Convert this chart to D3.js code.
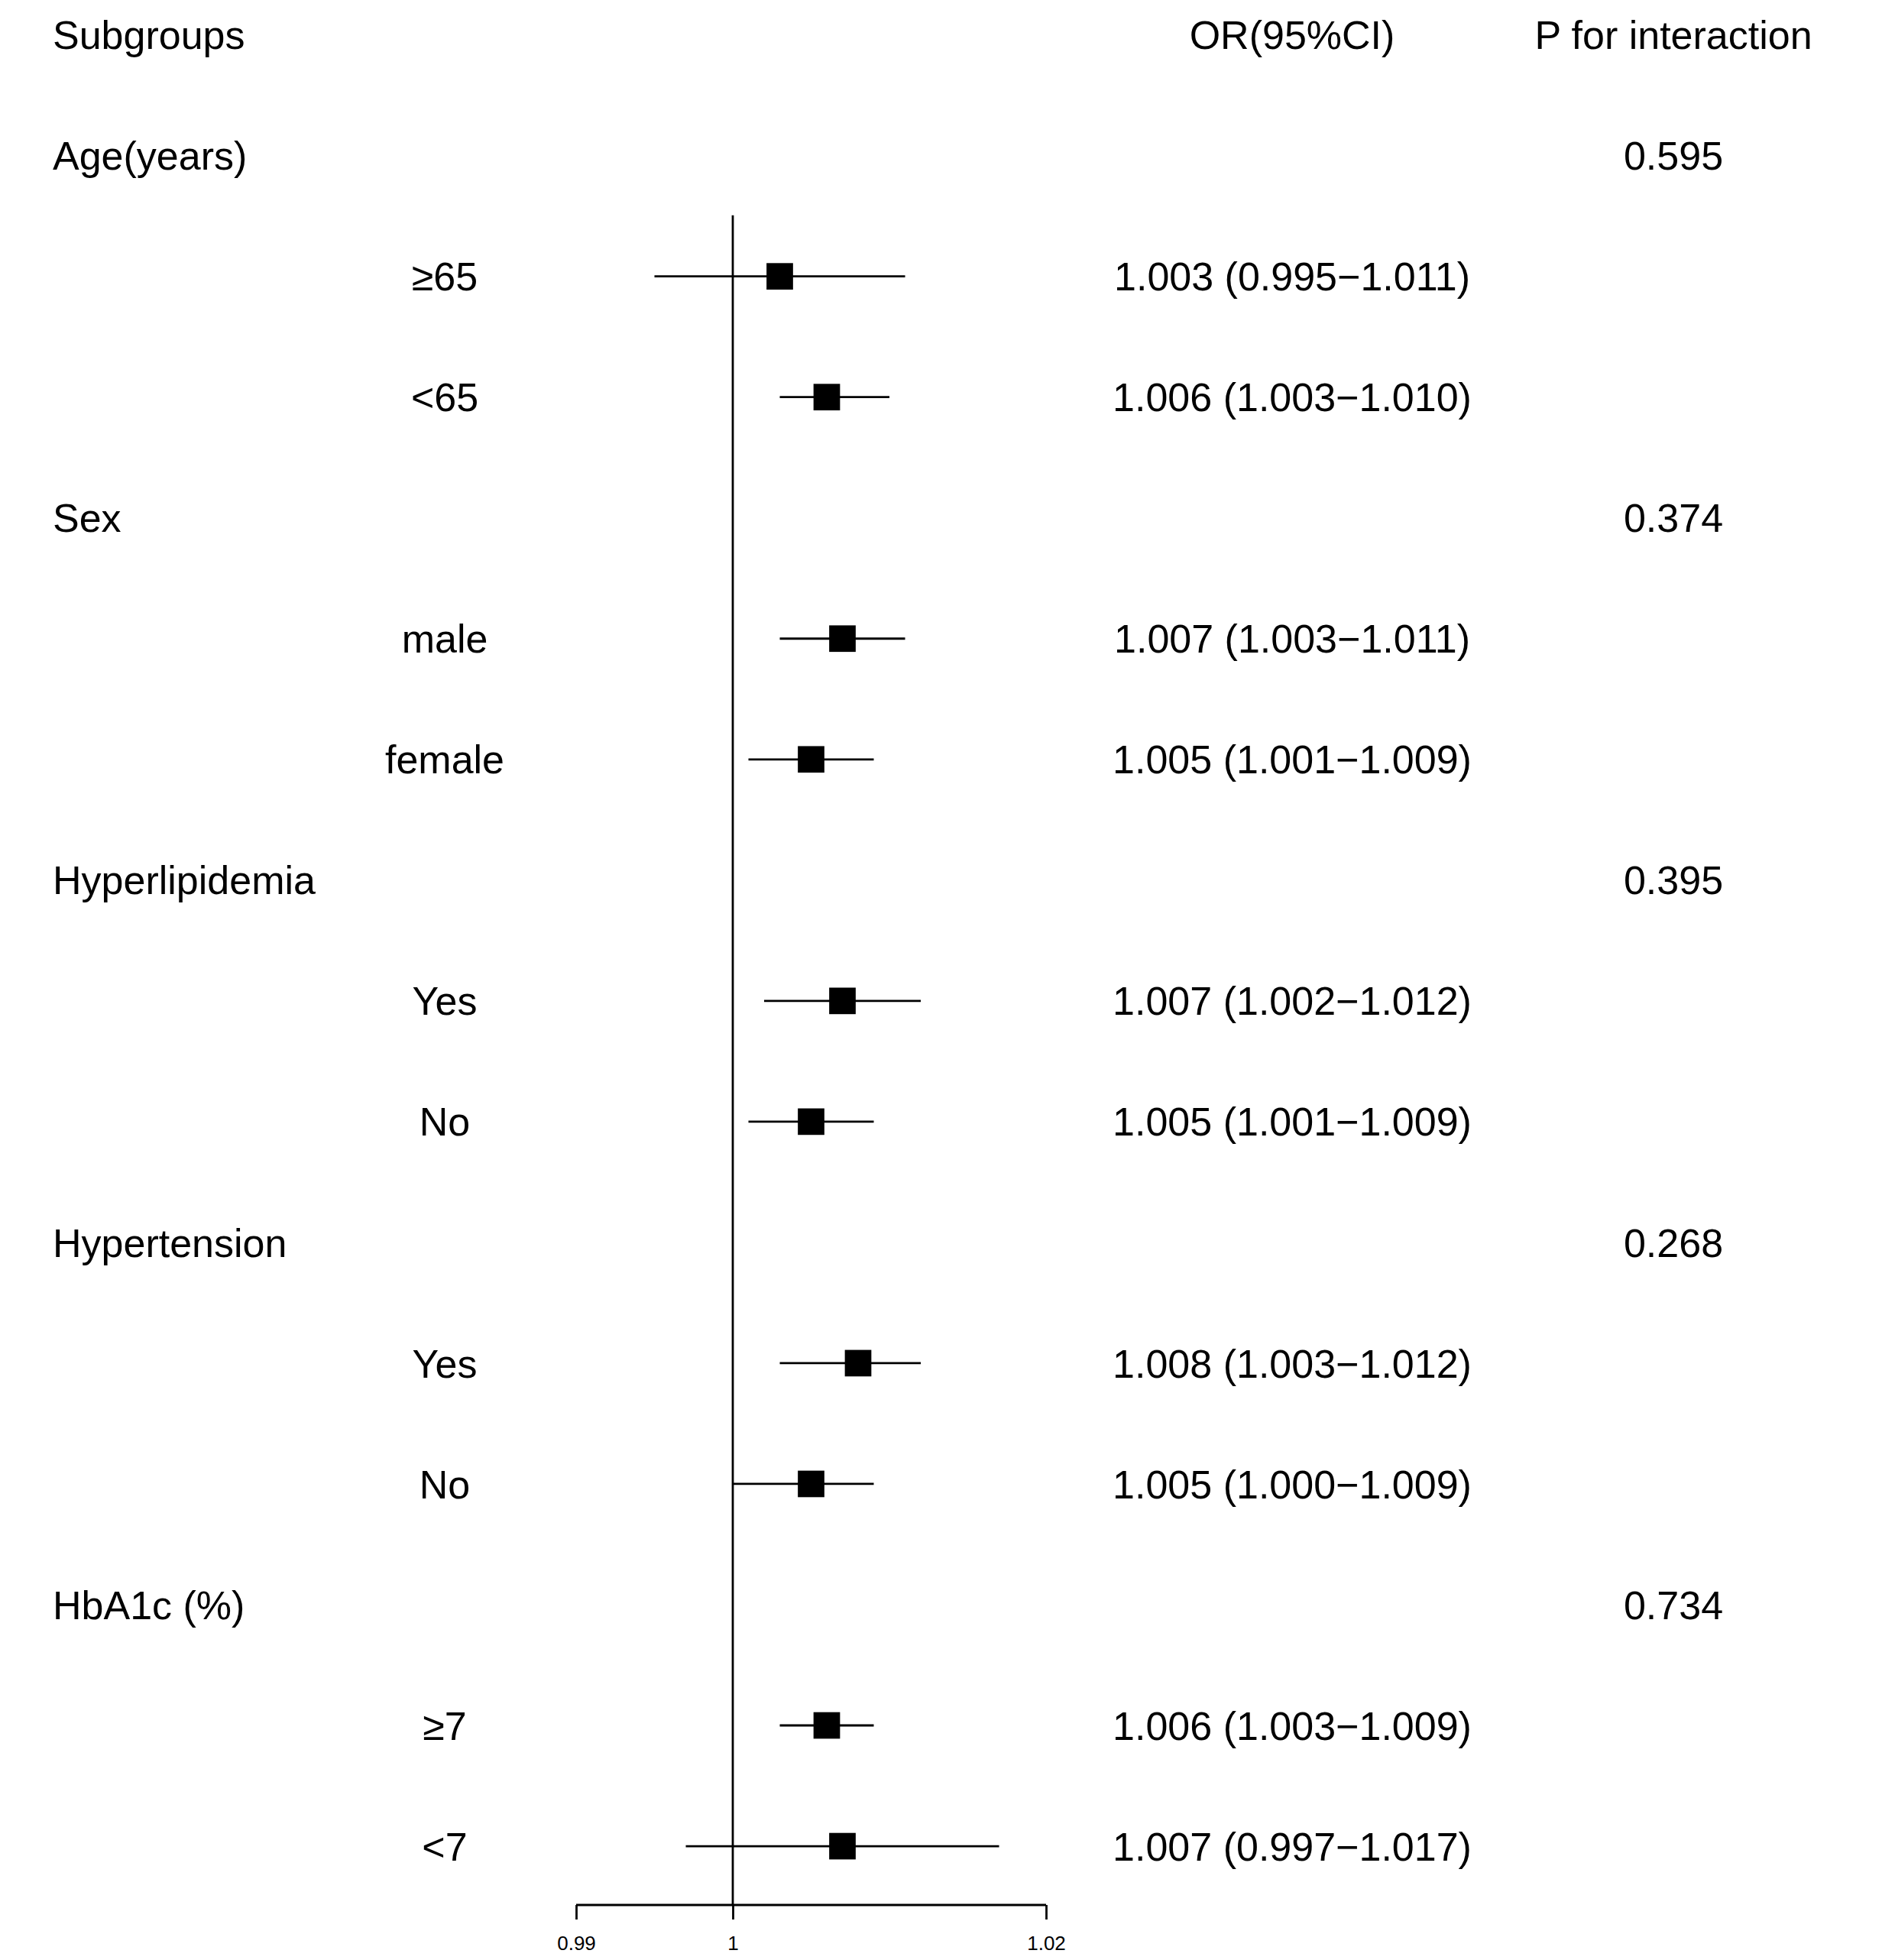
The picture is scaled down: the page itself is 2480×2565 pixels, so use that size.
<!DOCTYPE html>
<html>
<head>
<meta charset="utf-8">
<script src="https://cdn.jsdelivr.net/npm/d3@7/dist/d3.min.js"></script>
<style>
  html, body { margin: 0; padding: 0; background: #fff; }
  svg { display: block; }
  text { font-family: "Liberation Sans", Arial, sans-serif; fill: #000; }
</style>
</head>
<body>
<script>
// ---- data ----
const headers = ["Subgroups", "OR(95%CI)", "P for interaction"];
const groups = ["Age(years)", "Sex", "Hyperlipidemia", "Hypertension", "HbA1c (%)"];
const pInteraction = ["0.595", "0.374", "0.395", "0.268", "0.734"];
const subgroups = ["\u226565", "<65", "male", "female", "Yes", "No", "Yes", "No", "\u22657", "<7"];
const subgroupGroup = [0, 0, 1, 1, 2, 2, 3, 3, 4, 4];
const orValues = [1.003, 1.006, 1.007, 1.005, 1.007, 1.005, 1.008, 1.005, 1.006, 1.007];
const ciLower = [0.995, 1.003, 1.003, 1.001, 1.002, 1.001, 1.003, 1.000, 1.003, 0.997];
const ciUpper = [1.011, 1.010, 1.011, 1.009, 1.012, 1.009, 1.012, 1.009, 1.009, 1.017];
const tickValues = [0.99, 1, 1.02];
const tickLabels = ["0.99", "1", "1.02"];

// ---- layout ----
const W = 2480, H = 2565;
const svg = d3.select("body").append("svg").attr("width", W).attr("height", H);

const rows = [];
groups.forEach((g, gi) => {
  rows.push({ type: "group", label: g, p: pInteraction[gi] });
  subgroups.forEach((s, si) => {
    if (subgroupGroup[si] === gi) {
      rows.push({ type: "sub", label: s, or: orValues[si], lo: ciLower[si], hi: ciUpper[si] });
    }
  });
});

const y = d3.scaleLinear().domain([0, 1]).range([45.6, 45.6 + 158.03]);
const x = d3.scaleLinear().domain([0.99, 1.02]).range([754, 1369]);

const fs = 52;
const textOff = 18.6;
const colLeft = 69, colSub = 582, colOR = 1691, colP = 2190;
const lw = 2.8;
const sq = 34.7;

const fmt3 = d3.format(".3f");

svg.append("text").attr("x", colLeft).attr("y", y(0) + textOff).attr("font-size", fs).text(headers[0]);
svg.append("text").attr("x", colOR).attr("y", y(0) + textOff).attr("font-size", fs).attr("text-anchor", "middle").text(headers[1]);
svg.append("text").attr("x", colP).attr("y", y(0) + textOff).attr("font-size", fs).attr("text-anchor", "middle").text(headers[2]);

rows.forEach((r, i) => {
  const ry = y(i + 1);
  if (r.type === "group") {
    svg.append("text").attr("x", colLeft).attr("y", ry + textOff).attr("font-size", fs).text(r.label);
    svg.append("text").attr("x", colP).attr("y", ry + textOff).attr("font-size", fs).attr("text-anchor", "middle").text(r.p);
  } else {
    svg.append("text").attr("x", colSub).attr("y", ry + textOff).attr("font-size", fs).attr("text-anchor", "middle").text(r.label);
    svg.append("text").attr("x", colOR).attr("y", ry + textOff).attr("font-size", fs).attr("text-anchor", "middle")
      .text(`${fmt3(r.or)} (${fmt3(r.lo)}\u2212${fmt3(r.hi)})`);
  }
});

const subRows = rows.map((r, i) => ({ ...r, idx: i + 1 })).filter(r => r.type === "sub");

// axis
const axisY = 2493;
const axisG = svg.append("g").attr("transform", `translate(0,${axisY})`)
  .call(d3.axisBottom(x).tickValues(tickValues).tickSize(19).tickFormat((d, i) => tickLabels[i]));
axisG.select(".domain").attr("stroke", "#000").attr("stroke-width", lw).attr("d", `M${x(0.99)},0H${x(1.02)}`);
axisG.selectAll(".tick line").attr("stroke", "#000").attr("stroke-width", lw);
axisG.selectAll(".tick text").attr("y", 59).attr("dy", 0).attr("font-size", 26)
  .attr("font-family", '"Liberation Sans", Arial, sans-serif').attr("fill", "#000");

// reference line at 1
svg.append("line").attr("x1", x(1)).attr("x2", x(1)).attr("y1", 281.7).attr("y2", axisY)
  .attr("stroke", "#000").attr("stroke-width", lw);

// CIs and squares
const g = svg.append("g");
g.selectAll("line.ci").data(subRows).enter().append("line").attr("class", "ci")
  .attr("x1", d => x(d.lo)).attr("x2", d => x(d.hi))
  .attr("y1", d => y(d.idx)).attr("y2", d => y(d.idx))
  .attr("stroke", "#000").attr("stroke-width", lw);
g.selectAll("rect.pt").data(subRows).enter().append("rect").attr("class", "pt")
  .attr("x", d => x(d.or) - sq / 2).attr("y", d => y(d.idx) - sq / 2)
  .attr("width", sq).attr("height", sq).attr("fill", "#000");
</script>
</body>
</html>
